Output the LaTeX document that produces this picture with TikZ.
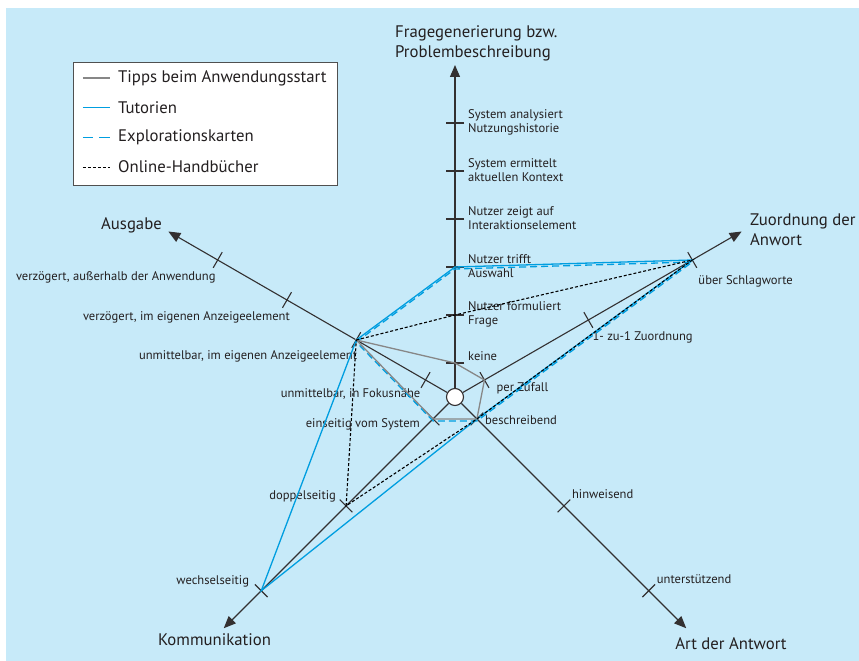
\documentclass[tikz,border=0pt]{standalone}
\usepackage{fontspec}
\setmainfont{PT Sans}
\usetikzlibrary{arrows.meta}
\definecolor{bgblue}{RGB}{199,234,249}
\definecolor{tutcyan}{RGB}{0,158,224}
\definecolor{tippgray}{RGB}{135,135,135}
\definecolor{axisgray}{RGB}{51,48,49}
\definecolor{textdark}{RGB}{35,31,32}
\definecolor{legframe}{RGB}{80,80,80}
\begin{document}
\begin{tikzpicture}[x=1bp,y=1bp,
  axis/.style={draw=axisgray,line width=1.1bp,-{Triangle[length=12bp,width=10bp]}},
  tickmark/.style={draw=axisgray,line width=1.1bp},
  ticklabel/.style={font=\fontsize{12.6}{14}\selectfont,text=textdark,inner sep=0pt,align=left},
  axislabel/.style={font=\fontsize{16.8}{20}\selectfont,text=textdark,inner sep=0pt,align=left},
  legtext/.style={font=\fontsize{16.8}{19}\selectfont,text=textdark,anchor=west,inner sep=0pt},
  tipps/.style={draw=tippgray,line width=1.3bp},
  tutorien/.style={draw=tutcyan,line width=1.3bp},
  explo/.style={draw=tutcyan,line width=1.3bp,dash pattern=on 7bp off 4bp},
  handbuch/.style={draw=black,line width=1.1bp,dash pattern=on 3bp off 2bp}]
\useasboundingbox (-455,-264) rectangle (404,397);
\fill[bgblue] (-449,-264) rectangle (404,389);
\node[circle,draw=axisgray,fill=white,line width=1.1bp,minimum size=17bp,inner sep=0pt] (ctr) at (0,0) {};
\coordinate (fEnd) at (90:332);
\coordinate (aEnd) at (150:331);
\coordinate (zEnd) at (30:331);
\coordinate (kEnd) at (225:327);
\coordinate (rEnd) at (315:327);
\draw[axis] (ctr) -- (fEnd);
\draw[axis] (ctr) -- (aEnd);
\draw[axis] (ctr) -- (zEnd);
\draw[axis] (ctr) -- (kEnd);
\draw[axis] (ctr) -- (rEnd);
\foreach \i in {1,...,6} {
\coordinate (f\i) at (90:{34+48*(\i-1)});
\draw[tickmark] (f\i) ++(0:9) -- ++(180:18);
}
\foreach \i in {1,...,4} {
\coordinate (a\i) at (150:{34+80*(\i-1)});
\draw[tickmark] (a\i) ++(60:9) -- ++(240:18);
}
\foreach \i in {1,2,3} {
\coordinate (z\i) at (30:{34+120*(\i-1)});
\draw[tickmark] (z\i) ++(120:9) -- ++(300:18);
}
\foreach \i/\d in {1/31,2/154,3/274} {
\coordinate (k\i) at (225:\d);
\coordinate (r\i) at (315:\d);
\draw[tickmark] (k\i) ++(135:9) -- ++(315:18);
\draw[tickmark] (r\i) ++(45:9) -- ++(225:18);
}
\node[ticklabel,anchor=west] (f1lab) at ([shift={(13,7)}]f1) {keine};
\foreach \i/\txt in {2/{Nutzer formuliert\\Frage},3/{Nutzer trifft\\Auswahl},4/{Nutzer zeigt auf\\Interaktionselement},5/{System ermittelt\\aktuellen Kontext},6/{System analysiert\\Nutzungshistorie}} {
\node[ticklabel,anchor=west] (f\i lab) at ([shift={(13,1)}]f\i) {\txt};
}
\foreach \i/\dx/\dy/\txt in {1/-5/-14/{unmittelbar, in Fokusnähe},2/1/-16/{unmittelbar, im eigenen Anzeigeelement},3/3/-17/{verzögert, im eigenen Anzeigeelement},4/-2/-17/{verzögert, außerhalb der Anwendung}} {
\node[ticklabel,anchor=east] (a\i lab) at ([shift={(\dx,\dy)}]a\i) {\txt};
}
\foreach \i/\dx/\dy/\txt in {1/12/-8/{per Zufall},2/4/-17/{1- zu-1 Zuordnung},3/6/-21/{über Schlagworte}} {
\node[ticklabel,anchor=west] (z\i lab) at ([shift={(\dx,\dy)}]z\i) {\txt};
}
\foreach \i/\dx/\dy/\txt in {1/-13/-5/{einseitig vom System},2/-10/10/{doppelseitig},3/-12/9/{wechselseitig}} {
\node[ticklabel,anchor=east] (k\i lab) at ([shift={(\dx,\dy)}]k\i) {\txt};
}
\foreach \i/\dy/\txt in {1/-1/{beschreibend},2/12/{hinweisend},3/12/{unterstützend}} {
\node[ticklabel,anchor=west] (r\i lab) at ([shift={(8,\dy)}]r\i) {\txt};
}
\draw[explo,transform canvas={yshift=-2bp}] (a2) -- (f3) -- (z3) -- (r1) -- (k1) -- cycle;
\draw[tutorien] (k3) -- (a2) -- (f3) -- (z3) -- (r1) -- cycle;
\draw[tipps] (a2) -- (f1) -- (z1) -- (r1) -- (k1) -- cycle;
\draw[handbuch] (a2) -- (f2) -- (z3) -- (r1) -- (k2) -- cycle;
\node[axislabel,anchor=west] (fLab) at (-60,354) {Fragegenerierung bzw.\\Problembeschreibung};
\node[axislabel] (aLab) at (-323.5,172) {Ausgabe};
\node[axislabel,anchor=west] (zLab) at (295,167) {Zuordnung der\\Anwort};
\node[axislabel] (kLab) at (-240.5,-243) {Kommunikation};
\node[axislabel] (rLab) at (276,-247) {Art der Antwort};
\node[draw=legframe,fill=white,line width=0.8bp,minimum width=264bp,minimum height=123bp,inner sep=0pt] (legend) at (-250,273.5) {};
\coordinate (l1a) at (-372,319);
\coordinate (l1b) at (-345,319);
\coordinate (l2a) at (-372,289.3);
\coordinate (l2b) at (-345,289.3);
\coordinate (l3a) at (-372,259.6);
\coordinate (l3b) at (-345,259.6);
\coordinate (l4a) at (-372,229.9);
\coordinate (l4b) at (-345,229.9);
\draw[tipps] (l1a) -- (l1b);
\draw[tutorien] (l2a) -- (l2b);
\draw[explo,dash pattern=on 10.5bp off 6bp] (l3a) -- (l3b);
\draw[handbuch] (l4a) -- (l4b);
\node[legtext] (l1t) at (-337,319) {Tipps beim Anwendungsstart};
\node[legtext] (l2t) at (-337,289.3) {Tutorien};
\node[legtext] (l3t) at (-337,259.6) {Explorationskarten};
\node[legtext] (l4t) at (-337,229.9) {Online-Handbücher};
\end{tikzpicture}
\end{document}
